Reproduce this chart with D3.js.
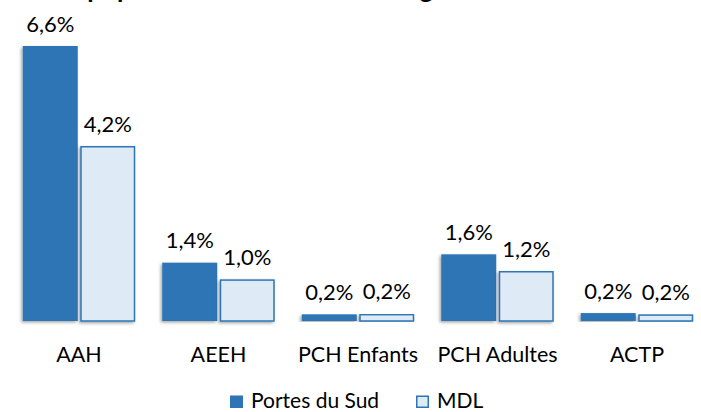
<!DOCTYPE html>
<html>
<head>
<meta charset="utf-8">
<script src="https://cdn.jsdelivr.net/npm/d3@7"></script>
<style>
  html, body { margin: 0; padding: 0; background: #fff; }
  svg { display: block; font-family: Lato, "Open Sans", sans-serif; }
</style>
</head>
<body>
<svg id="chart"></svg>
<script>
// data
const categories = ["AAH", "AEEH", "PCH Enfants", "PCH Adultes", "ACTP"];
const series = ["Portes du Sud", "MDL"];
const portesDuSud = [6.6, 1.4, 0.16, 1.6, 0.19];
const mdl = [4.2, 1.0, 0.17, 1.2, 0.16];
const title = "La population bénéficiaire de l'âge";

const W = 701, H = 412;
const colors = { "Portes du Sud": "#2E75B6", "MDL": "#DEEBF7" };
const strokeBlue = "#2E75B6";

const svg = d3.select("#chart").attr("width", W).attr("height", H);

// soft shadow like the office chart
const defs = svg.append("defs");
const f = defs.append("filter").attr("id", "shadow")
    .attr("x", "-20%").attr("y", "-5%").attr("width", "140%").attr("height", "115%");
f.append("feDropShadow")
    .attr("dx", -1.5).attr("dy", 1.5).attr("stdDeviation", 1.6)
    .attr("flood-color", "#000").attr("flood-opacity", 0.35);

// title (cut at the top of the picture, only descenders show)
const t = svg.append("text")
    .attr("font-weight", "bold")
    .attr("font-size", 26)
    .attr("fill", "#000")
    .attr("y", -2.5)
    .text(title);
// put the first "p" of the title where it sits in the picture
const probe = svg.append("text").attr("font-weight", "bold").attr("font-size", 26).text("La ");
const lead = probe.node().getComputedTextLength();
probe.remove();
t.attr("x", 81 - lead);

const rows = categories.map((c, i) => ({ cat: c, "Portes du Sud": portesDuSud[i], "MDL": mdl[i] }));

const x0 = d3.scaleBand()
    .domain(categories)
    .range([9.25, 706.75])
    .paddingInner(0.1935)
    .paddingOuter(0.1935 / 2);

const x1 = d3.scaleBand()
    .domain(series)
    .range([0, x0.bandwidth()])
    .paddingInner(0.0435);

const y = d3.scaleLinear()
    .domain([0, 6.6])
    .range([321, 46]);

const fmt = v => d3.format(".1f")(v).replace(".", ",") + "%";

// baseline axis with category labels
const axis = svg.append("g")
    .attr("transform", `translate(0,${y(0)})`)
    .call(d3.axisBottom(x0).tickSize(0).tickPadding(25.5));
axis.select(".domain")
    .attr("stroke", "#d4d4d4")
    .attr("stroke-width", 1.5)
    .attr("filter", "url(#shadow)");
axis.selectAll("text")
    .attr("font-family", "Lato, sans-serif")
    .attr("font-size", 21.5)
    .attr("fill", "#000");

// bars
const groups = svg.append("g").selectAll("g")
    .data(rows)
    .join("g")
    .attr("transform", d => `translate(${x0(d.cat)},0)`);

groups.selectAll("rect")
    .data(d => series.map(s => ({ s: s, v: d[s] })))
    .join("rect")
    .attr("x", d => x1(d.s) + (d.s === "MDL" ? 0.75 : 0))
    .attr("y", d => y(d.v) + (d.s === "MDL" ? 0.75 : 0))
    .attr("width", d => x1.bandwidth() - (d.s === "MDL" ? 1.5 : 0))
    .attr("height", d => y(0) - y(d.v) - (d.s === "MDL" ? 0.75 : 0))
    .attr("fill", d => colors[d.s])
    .attr("stroke", d => d.s === "MDL" ? strokeBlue : "none")
    .attr("stroke-width", 1.5)
    .attr("filter", "url(#shadow)");

groups.selectAll("text")
    .data(d => series.map(s => ({ s: s, v: d[s] })))
    .join("text")
    .attr("x", d => x1(d.s) + x1.bandwidth() / 2)
    .attr("y", d => y(d.v) - 14.5)
    .attr("text-anchor", "middle")
    .attr("font-size", 22)
    .attr("fill", "#000")
    .text(d => fmt(d.v));

// legend
const legendX = [230, 416];
const legend = svg.append("g").selectAll("g")
    .data(series)
    .join("g")
    .attr("transform", (d, i) => `translate(${legendX[i]},395.5)`);

legend.append("rect")
    .attr("x", d => d === "MDL" ? 0.75 : 0)
    .attr("y", d => d === "MDL" ? 0.75 : 0)
    .attr("width", d => d === "MDL" ? 11.5 : 13)
    .attr("height", d => d === "MDL" ? 11 : 12.5)
    .attr("fill", d => colors[d])
    .attr("stroke", d => d === "MDL" ? strokeBlue : "none")
    .attr("stroke-width", 1.5);

legend.append("text")
    .attr("x", 21)
    .attr("y", 12)
    .attr("font-size", 21)
    .attr("fill", "#000")
    .text(d => d);
</script>
</body>
</html>
